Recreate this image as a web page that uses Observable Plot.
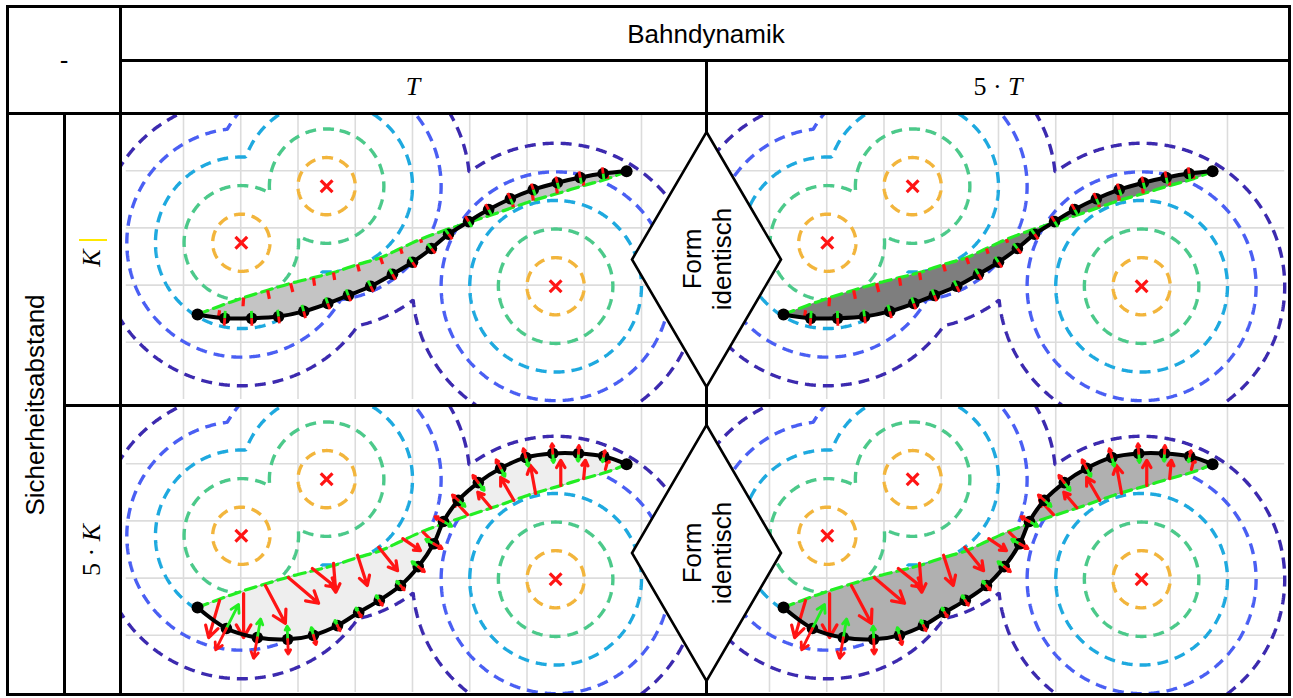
<!DOCTYPE html>
<html><head><meta charset="utf-8">
<script src="https://cdn.jsdelivr.net/npm/d3@7"></script>
<script src="https://cdn.jsdelivr.net/npm/@observablehq/plot@0.6"></script>
<style>
body{margin:0;background:#fff;}
#wrap{position:relative;width:1293px;height:698px;overflow:hidden;font-family:"Liberation Sans",Arial,sans-serif;background:#fff}
.ln{position:absolute;background:#000;z-index:8}
.panel{position:absolute;z-index:1;overflow:hidden}
.panel svg{display:block;overflow:hidden}
.lbl{position:absolute;z-index:10;white-space:nowrap;transform:translate(-50%,-50%);font-size:26px;color:#000;line-height:30px;text-align:center}
.rot{transform:translate(-50%,-50%) rotate(-90deg)}
.math{font-family:"Liberation Serif","DejaVu Serif",serif;font-size:26px}
.dia{position:absolute;z-index:9}
</style></head><body><div id="wrap"></div>
<script>
// ---------------- data ----------------
const obsX = [2.01, 3.50, 7.50];
const obsY = [2.74, 3.73, 1.98];
const levels = [0.5, 1, 1.5, 2, 2.5];
const levelColors = ["#f2b53c", "#4cc98a", "#1ea9df", "#4a5ff3", "#3c2aaf"];
const gridX = [1, 2, 3, 4, 5, 6, 7, 8, 9];
const gridY = [1, 2, 3, 4];

// initial (reference) path, green dashed
const greenX = [1.245, 1.65, 2.05, 2.47, 2.87, 3.27, 3.62, 4.04, 4.44, 4.79, 5.14, 5.54, 5.96, 6.36, 6.76, 7.11, 7.53, 7.99, 8.41, 8.74];
const greenY = [1.486, 1.64, 1.78, 1.91, 2.03, 2.13, 2.22, 2.36, 2.48, 2.64, 2.80, 2.95, 3.09, 3.22, 3.36, 3.48, 3.60, 3.74, 3.86, 3.99];

// optimized path, safety distance K
const pathKX = [1.245, 1.72, 2.19, 2.66, 3.10, 3.52, 3.88, 4.27, 4.65, 5.00, 5.33, 5.63, 5.98, 6.33, 6.71, 7.11, 7.53, 7.93, 8.33, 8.74];
const pathKY = [1.486, 1.42, 1.42, 1.45, 1.54, 1.68, 1.82, 1.98, 2.19, 2.40, 2.64, 2.89, 3.11, 3.32, 3.51, 3.67, 3.79, 3.88, 3.95, 3.99];
// optimized path, safety distance 5·K
const path5KX = [1.245, 1.75, 2.29, 2.82, 3.27, 3.69, 4.06, 4.42, 4.79, 5.10, 5.37, 5.54, 5.80, 6.15, 6.54, 6.98, 7.45, 7.90, 8.34, 8.74];
const path5KY = [1.486, 1.12, 0.96, 0.93, 1.00, 1.17, 1.40, 1.61, 1.87, 2.20, 2.60, 2.99, 3.36, 3.67, 3.92, 4.11, 4.18, 4.18, 4.13, 3.99];

// normal vectors at the path markers (lengths, data units)
const tickGreenK  = [0.13, 0.13, 0.12, 0.12, 0.11, 0.11, 0.11, 0.11, 0.11, 0.11, 0.11, 0.11, 0.11, 0.11, 0.11, 0.11, 0.11, 0.11];
const tickRedK    = [0.13, 0.13, 0.12, 0.12, 0.11, 0.11, 0.11, 0.11, 0.11, 0.11, 0.11, 0.11, 0.11, 0.11, 0.11, 0.11, 0.11, 0.11];
const tickGreen5K = [0.47, 0.33, 0.23, 0.14, 0.10, 0.09, 0.10, 0.10, 0.14, 0.16, 0.17, 0.16, 0.17, 0.16, 0.16, 0.16, 0.14, 0.10];
const tickRed5K   = [0.42, 0.37, 0.26, 0.17, 0.10, 0.09, 0.10, 0.10, 0.14, 0.17, 0.17, 0.14, 0.16, 0.17, 0.16, 0.17, 0.14, 0.10];

// forces on the reference path (red), K
const forceKX1 = [1.63, 2.05, 2.47, 2.87, 3.27, 3.62, 4.04, 4.44, 4.79, 5.14, 5.96, 6.36, 6.76, 7.11, 7.53, 7.99, 8.41];
const forceKY1 = [1.56, 1.78, 1.91, 2.03, 2.13, 2.22, 2.36, 2.48, 2.64, 2.80, 3.09, 3.22, 3.36, 3.48, 3.60, 3.74, 3.86];
const forceKX2 = [1.61, 2.04, 2.50, 2.91, 3.29, 3.64, 4.07, 4.48, 4.82, 5.16, 5.95, 6.34, 6.74, 7.09, 7.51, 7.98, 8.40];
const forceKY2 = [1.42, 1.63, 1.76, 1.88, 1.99, 2.09, 2.24, 2.37, 2.55, 2.74, 3.16, 3.35, 3.50, 3.62, 3.74, 3.86, 3.95];
// forces, 5·K
const force5KX1 = [1.63, 2.05, 2.43, 2.83, 3.25, 3.62, 4.04, 4.41, 4.83, 5.19, 5.96, 6.37, 6.77, 7.15, 7.59, 7.99, 8.37];
const force5KY1 = [1.61, 1.73, 1.87, 2.01, 2.17, 2.26, 2.40, 2.54, 2.69, 2.80, 3.11, 3.23, 3.36, 3.48, 3.62, 3.74, 3.90];
const force5KX2 = [1.44, 2.05, 2.78, 3.36, 3.66, 3.66, 4.21, 4.74, 5.14, 5.46, 5.72, 6.14, 6.54, 7.06, 7.59, 8.02, 8.42];
const force5KY2 = [0.96, 0.96, 1.21, 1.56, 1.84, 1.75, 1.87, 2.13, 2.48, 2.53, 3.37, 3.50, 3.76, 3.97, 4.06, 4.06, 4.09];

// ---------------- helpers ----------------
const RED = "#ff1414", GREEN = "#22ee22";
const wrap = document.getElementById("wrap");
const zip = (xs, ys) => xs.map((x, i) => ({x, y: ys[i]}));
const segs = (x1, y1, x2, y2) => x1.map((v, i) => ({x1: v, y1: y1[i], x2: x2[i], y2: y2[i]}));
const green = zip(greenX, greenY);

function dist(x, y) {
  let m = Infinity;
  for (let i = 0; i < obsX.length; i++) m = Math.min(m, Math.hypot(x - obsX[i], y - obsY[i]));
  return m;
}

function markerTicks(px, py, gLen, rLen) {
  const G = [], R = [];
  for (let i = 1; i < px.length - 1; i++) {
    let tx = px[i + 1] - px[i - 1], ty = py[i + 1] - py[i - 1];
    const l = Math.hypot(tx, ty); tx /= l; ty /= l;
    const nx = -ty, ny = tx;
    let best = Infinity, gx = 0, gy = 0;
    for (let j = 0; j < greenX.length; j++) {
      const d = Math.hypot(greenX[j] - px[i], greenY[j] - py[i]);
      if (d < best) { best = d; gx = greenX[j]; gy = greenY[j]; }
    }
    const s = ((gx - px[i]) * nx + (gy - py[i]) * ny) >= 0 ? 1 : -1;
    const gl = gLen[i - 1], rl = rLen[i - 1];
    G.push({x1: px[i], y1: py[i], x2: px[i] + s * nx * gl, y2: py[i] + s * ny * gl});
    R.push({x1: px[i], y1: py[i], x2: px[i] - s * nx * rl, y2: py[i] - s * ny * rl});
  }
  return {G, R};
}

function panel(cfg) {
  const black = zip(cfg.px, cfg.py);
  const band = black.concat(green.slice().reverse());
  const forces = segs(cfg.fx1, cfg.fy1, cfg.fx2, cfg.fy2);
  const ticks = markerTicks(cfg.px, cfg.py, cfg.gLen, cfg.rLen);
  const big = cfg.arrows;
  const seg = (data, stroke, w, head) => big
    ? Plot.arrow(data, {x1: "x1", y1: "y1", x2: "x2", y2: "y2", stroke, strokeWidth: w, headLength: head, headAngle: 60})
    : Plot.link(data, {x1: "x1", y1: "y1", x2: "x2", y2: "y2", stroke, strokeWidth: w});
  const marks = [
    Plot.ruleX(gridX, {y1: 0, y2: 5, stroke: "#dcdcdc", strokeWidth: 1.6}),
    Plot.ruleY(gridY, {x1: 0, x2: 10, stroke: "#dcdcdc", strokeWidth: 1.6}),
    ...levels.map((lv, i) => Plot.contour({
      value: dist, x1: -3, y1: -3, x2: 13, y2: 8, thresholds: [lv],
      fill: "none", stroke: levelColors[i], strokeWidth: 3.4, strokeDasharray: "11,7",
      clip: true, pixelSize: 1
    })),
    Plot.line(band, {x: "x", y: "y", fill: cfg.bandFill, stroke: cfg.bandStroke, strokeWidth: 0.6, curve: "catmull-rom"}),
    Plot.line(green, {x: "x", y: "y", stroke: GREEN, strokeWidth: 3.2, strokeDasharray: "11,6", curve: "catmull-rom"}),
    seg(forces, RED, 3.2, 10),
    Plot.line(black, {x: "x", y: "y", stroke: "#000", strokeWidth: 4, curve: "catmull-rom"}),
    Plot.dot(black.slice(1, -1), {x: "x", y: "y", r: 5.8, fill: "#000"}),
    seg(ticks.G, GREEN, 2.8, 7),
    seg(ticks.R, RED, 2.8, 7),
    Plot.dot([black[0], black[black.length - 1]], {x: "x", y: "y", r: 6, fill: "#000"}),
    Plot.dot(zip(obsX, obsY), {x: "x", y: "y", symbol: "times", r: 5.4, stroke: RED, strokeWidth: 3.2})
  ];
  const svg = Plot.plot({
    width: cfg.w, height: cfg.h,
    marginTop: 0, marginRight: 0, marginBottom: 0, marginLeft: 0,
    x: {domain: cfg.xd, axis: null},
    y: {domain: cfg.yd, axis: null},
    style: {background: "transparent", overflow: "hidden"},
    marks
  });
  const div = document.createElement("div");
  div.className = "panel";
  div.style.left = cfg.left + "px"; div.style.top = cfg.top + "px";
  div.style.width = cfg.w + "px"; div.style.height = cfg.h + "px";
  div.appendChild(svg);
  wrap.appendChild(div);
}

// ---------------- panels ----------------
const yTop = [-0.0874, 4.965], yBot = [-0.0175, 4.983];
panel({left: 122, top: 115, w: 583, h: 289, xd: [-0.0655, 10.118], yd: yTop,
  px: pathKX, py: pathKY, gLen: tickGreenK, rLen: tickRedK,
  fx1: forceKX1, fy1: forceKY1, fx2: forceKX2, fy2: forceKY2, arrows: false,
  bandFill: "#c4c4c4", bandStroke: "#8a8a8a"});
panel({left: 708, top: 115, w: 580, h: 289, xd: [-0.0655, 10.066], yd: yTop,
  px: pathKX, py: pathKY, gLen: tickGreenK, rLen: tickRedK,
  fx1: forceKX1, fy1: forceKY1, fx2: forceKX2, fy2: forceKY2, arrows: false,
  bandFill: "#7e7e7e", bandStroke: "#5a5a5a"});
panel({left: 122, top: 407, w: 583, h: 286, xd: [-0.0655, 10.118], yd: yBot,
  px: path5KX, py: path5KY, gLen: tickGreen5K, rLen: tickRed5K,
  fx1: force5KX1, fy1: force5KY1, fx2: force5KX2, fy2: force5KY2, arrows: true,
  bandFill: "#eeeeee", bandStroke: "#888888"});
panel({left: 708, top: 407, w: 580, h: 286, xd: [-0.0655, 10.066], yd: yBot,
  px: path5KX, py: path5KY, gLen: tickGreen5K, rLen: tickRed5K,
  fx1: force5KX1, fy1: force5KY1, fx2: force5KX2, fy2: force5KY2, arrows: true,
  bandFill: "#b0b0b0", bandStroke: "#707070"});

// ---------------- table frame ----------------
function line(x, y, w, h) {
  const d = document.createElement("div");
  d.className = "ln";
  Object.assign(d.style, {left: x + "px", top: y + "px", width: w + "px", height: h + "px"});
  wrap.appendChild(d);
}
line(6, 5, 1285, 3); line(6, 693, 1285, 3);
line(6, 5, 3, 691); line(1288, 5, 3, 691);
line(120, 59, 1171, 3); line(6, 112, 1285, 3);
line(63, 404, 1228, 3);
line(63, 112, 3, 584); line(119, 5, 3, 691); line(705, 59, 3, 637);

function diamond(top, h) {
  const d = document.createElement("div");
  d.className = "dia";
  Object.assign(d.style, {left: "632px", top: top + "px", width: "149px", height: h + "px"});
  d.innerHTML = '<svg width="149" height="' + h + '" viewBox="0 0 149 ' + h + '" style="overflow:visible">' +
    '<polygon points="74.5,0 149,' + (h / 2) + ' 74.5,' + h + ' 0,' + (h / 2) + '" fill="#fff" stroke="#000" stroke-width="2.6"/></svg>';
  wrap.appendChild(d);
}
diamond(132, 255); diamond(425, 256);

function label(html, x, y, cls) {
  const d = document.createElement("div");
  d.className = "lbl " + (cls || "");
  d.style.left = x + "px"; d.style.top = y + "px";
  d.innerHTML = html;
  wrap.appendChild(d);
}
label("Bahndynamik", 706, 34);
label("-", 64, 60);
label("<i>T</i>", 413, 87, "math");
label("5 · <i>T</i>", 998, 87, "math");
label("Sicherheitsabstand", 35, 405, "rot");
label("<i>K</i>", 92, 258, "rot math");
label("5 · <i>K</i>", 92, 550, "rot math");
label("Form<br>identisch", 707, 259, "rot");
label("Form<br>identisch", 707, 553, "rot");
// small yellow mark beside K
const ym = document.createElement("div");
Object.assign(ym.style, {position: "absolute", left: "79px", top: "239px", width: "28px", height: "2px", background: "#ffe800", zIndex: 10});
wrap.appendChild(ym);
</script></body></html>
